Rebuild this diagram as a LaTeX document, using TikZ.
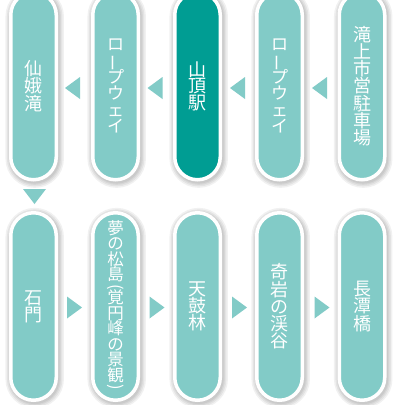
\documentclass[tikz,border=0pt]{standalone}
\usepackage{fontspec}
\newfontfamily\jpf{Noto Sans CJK JP}
\usetikzlibrary{calc}
\definecolor{lteal}{HTML}{82CBC7}
\definecolor{dteal}{HTML}{009D93}
\newcommand\vbar{\rotatebox[origin=c]{90}{ー}}
\newcommand\lpar{\rotatebox[origin=c]{-90}{(}}
\newcommand\rpar{\rotatebox[origin=c]{-90}{)}}
\tikzset{
  shadowlayer/.style={preaction={draw=black, draw opacity=0.055, line width=#1, transform canvas={shift={(1.2pt,-1.6pt)}}}},
  pill/.style={rectangle, rounded corners=22.75pt, minimum width=45.5pt, minimum height=187.5pt,
    inner sep=0pt, draw=white, line width=3.5pt, fill=lteal, text=white, align=center,
    shadowlayer=13pt, shadowlayer=10pt, shadowlayer=7pt, shadowlayer=4.5pt,
    font={\jpf\fontsize{18}{17.2}\selectfont\lineskiplimit=-30pt}},
  darkpill/.style={pill, fill=dteal},
  tri/.style={fill=lteal, draw=none},
}
\begin{document}
\begin{tikzpicture}[x=1pt, y=-1pt]
\useasboundingbox (0,0) rectangle (404,405);
\fill[white] (0,0) rectangle (404,405);
\clip (0,0) rectangle (404,405);
% top row
\node[pill] (t1) at (33.5,86) {仙\\娥\\滝};
\node[pill, font={\jpf\fontsize{17}{16.5}\selectfont\lineskiplimit=-30pt}] (t2) at (115.5,86) {ロ\\\vbar\\プ\\ウ\\ェ\\イ};
\node[darkpill, font={\jpf\fontsize{18}{16.5}\selectfont\lineskiplimit=-30pt}] (t3) at (197.5,86) {山\\頂\\駅};
\node[pill, font={\jpf\fontsize{17}{16.5}\selectfont\lineskiplimit=-30pt}] (t4) at (279.5,86) {ロ\\\vbar\\プ\\ウ\\ェ\\イ};
\node[pill] (t5) at (362,86) {滝\\上\\市\\営\\駐\\車\\場};
% bottom row
\node[pill] (b1) at (33.5,306.5) {石\\門};
\node[pill, font={\jpf\fontsize{16.5}{15.5}\selectfont\lineskiplimit=-30pt}] (b2) at (115.5,306.5)
  {夢\\の\\松\\島\\[-4pt]\lpar\\[-4pt]覚\\円\\峰\\の\\景\\観\\[-4pt]\rpar};
\node[pill] (b3) at (197.5,306.5) {天\\鼓\\林};
\node[pill] (b4) at (279.5,306.5) {奇\\岩\\の\\渓\\谷};
\node[pill] (b5) at (362,306.5) {長\\潭\\橋};
% arrows top row (pointing left)
\fill[tri] (80,77) -- (80,99) -- (65,88) -- cycle;
\fill[tri] (162.5,77) -- (162.5,99) -- (147.5,88) -- cycle;
\fill[tri] (245,77) -- (245,99) -- (230,88) -- cycle;
\fill[tri] (327,77) -- (327,99) -- (312,88) -- cycle;
% down arrow
\fill[tri] (23,189) -- (46,189) -- (34.5,204) -- cycle;
% arrows bottom row (pointing right)
\fill[tri] (67,296.5) -- (67,318.5) -- (82,307.5) -- cycle;
\fill[tri] (149.5,296.5) -- (149.5,318.5) -- (164.5,307.5) -- cycle;
\fill[tri] (232,296.5) -- (232,318.5) -- (247,307.5) -- cycle;
\fill[tri] (314.5,296.5) -- (314.5,318.5) -- (329.5,307.5) -- cycle;
\end{tikzpicture}
\end{document}
